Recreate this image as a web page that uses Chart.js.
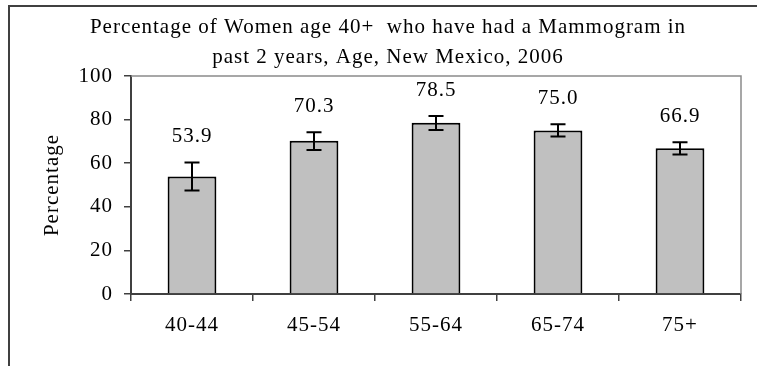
<!DOCTYPE html>
<html>
<head>
<meta charset="utf-8">
<script src="https://cdn.jsdelivr.net/npm/chart.js@4/dist/chart.umd.min.js"></script>
<style>
body{margin:0;overflow:hidden;background:#fff}
#wrap{position:relative;width:757px;height:366px}
#frame{position:absolute;left:8px;top:5px;width:800px;height:500px;border:2px solid #404040;pointer-events:none}
</style>
</head>
<body>
<div id="wrap">
<canvas id="c" width="757" height="366"></canvas>
<div id="frame"></div>
</div>
<script>
const titleLines=["Percentage of Women age 40+  who have had a Mammogram in","past 2 years, Age, New Mexico, 2006"]
const ageGroups=["40-44","45-54","55-64","65-74","75+"]
const percentages=[53.9,70.3,78.5,75.0,66.9]
const lowerCI=[47.5,66.0,75.2,72.2,64.0]
const upperCI=[60.3,74.2,81.6,77.9,69.6]
const yMin=0
const yMax=100
const yStep=20

const serif="'Liberation Serif','Times New Roman',serif"
const axisColor="#404040"

// excel text is a touch wider than canvas text
const spacing={
id:"spacing",
beforeDraw(chart){chart.ctx.letterSpacing="1px"}
}

// title sits a bit right of the canvas centre in the original
const chartTitle={
id:"chartTitle",
afterDraw(chart){
const ctx=chart.ctx
ctx.save()
ctx.fillStyle="#000"
ctx.font="21px "+serif
ctx.textAlign="center"
ctx.textBaseline="middle"
titleLines.forEach((t,i)=>ctx.fillText(t,388,27+i*30))
ctx.restore()
}
}

const plotBorder={
id:"plotBorder",
beforeDatasetsDraw(chart){
const a=chart.chartArea
const ctx=chart.ctx
ctx.save()
ctx.strokeStyle="#8a8a8a"
ctx.lineWidth=1.5
ctx.beginPath()
ctx.moveTo(a.left,a.top)
ctx.lineTo(a.right,a.top)
ctx.lineTo(a.right,a.bottom)
ctx.stroke()
ctx.restore()
}
}

const errorBars={
id:"errorBars",
afterDatasetsDraw(chart){
const ctx=chart.ctx
const y=chart.scales.y
const meta=chart.getDatasetMeta(0)
ctx.save()
ctx.strokeStyle="#000"
ctx.lineWidth=2
meta.data.forEach((bar,i)=>{
const yl=y.getPixelForValue(lowerCI[i])
const yu=y.getPixelForValue(upperCI[i])
ctx.beginPath()
ctx.moveTo(bar.x,yl);ctx.lineTo(bar.x,yu)
ctx.moveTo(bar.x-7.5,yl);ctx.lineTo(bar.x+7.5,yl)
ctx.moveTo(bar.x-7.5,yu);ctx.lineTo(bar.x+7.5,yu)
ctx.stroke()
})
ctx.fillStyle="#000"
ctx.font="21px "+serif
ctx.textAlign="center"
ctx.textBaseline="middle"
meta.data.forEach((bar,i)=>{
ctx.fillText(percentages[i].toFixed(1),bar.x,y.getPixelForValue(upperCI[i])-26)
})
ctx.restore()
}
}

new Chart(document.getElementById("c"),{
type:"bar",
data:{
labels:ageGroups,
datasets:[{
data:percentages,
backgroundColor:"#c0c0c0",
borderColor:"#000",
borderWidth:2,
categoryPercentage:1,
barPercentage:0.4
}]
},
options:{
responsive:false,
animation:false,
layout:{padding:{left:0,right:16,top:76,bottom:0}},
plugins:{
legend:{display:false},
tooltip:{enabled:false},
title:{display:false}
},
scales:{
x:{
afterFit(s){s.height=72},
grid:{drawOnChartArea:false,drawTicks:true,tickLength:7,color:axisColor,lineWidth:1.5},
border:{display:true,color:axisColor,width:2},
ticks:{color:"#000",padding:12,font:{family:serif,size:21}}
},
y:{
min:yMin,
max:yMax,
afterFit(s){s.width=131},
grid:{drawOnChartArea:false,drawTicks:true,tickLength:7,color:axisColor,lineWidth:1.5},
border:{display:true,color:axisColor,width:2},
ticks:{stepSize:yStep,color:"#000",padding:11,font:{family:serif,size:21}},
title:{display:true,text:"Percentage",color:"#000",font:{family:serif,size:21},padding:{top:40,bottom:0}}
}
}
},
plugins:[spacing,plotBorder,errorBars,chartTitle]
})
</script>
</body>
</html>
